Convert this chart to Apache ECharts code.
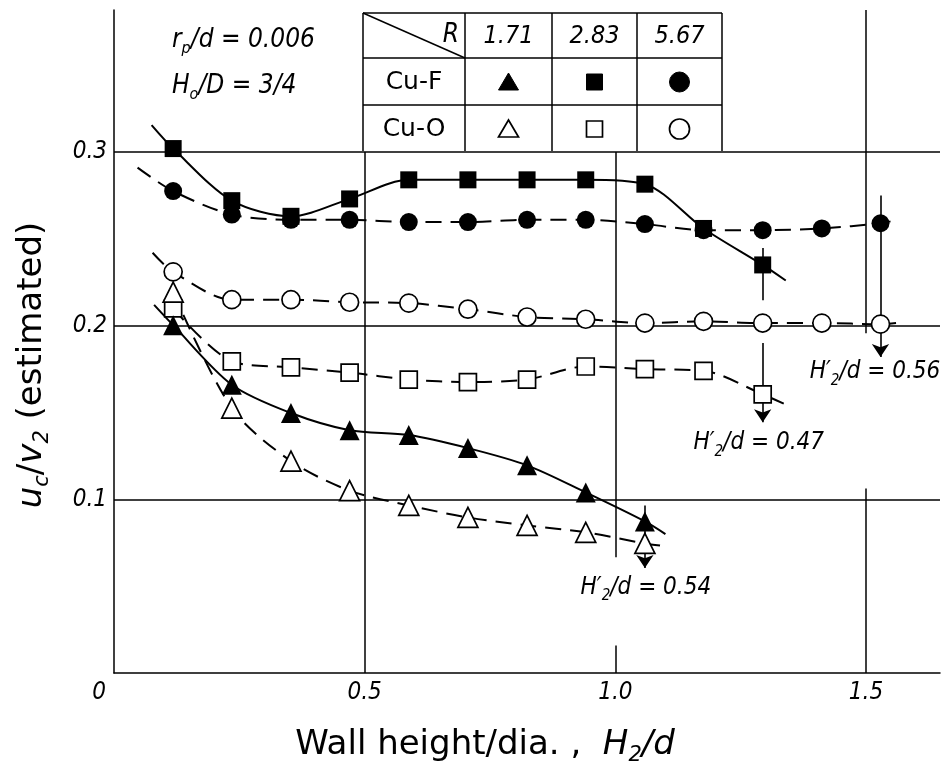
<!DOCTYPE html>
<html><head><meta charset="utf-8">
<script src="https://cdn.jsdelivr.net/npm/echarts@6/dist/echarts.min.js"></script>
<style>html,body{margin:0;padding:0;background:#fff}#c{width:944px;height:771px}</style>
</head><body><div id="c"></div>
<script>
// ---------- data ----------
const xPos = [0.118,0.235,0.353,0.470,0.588,0.706,0.824,0.941,1.059,1.176,1.294,1.412,1.529];
// Cu-F (filled), Cu-O (open); R = 1.71 triangle, 2.83 square, 5.67 circle
const cuF_283 = [0.302,0.272,0.263,0.273,0.284,0.284,0.284,0.284,0.2815,0.256,0.235];
const cuF_283_ends = [[0.075,0.3155],[1.340,0.226]];
const cuF_567 = [0.2775,0.264,0.261,0.261,0.2597,0.2597,0.261,0.261,0.2585,0.255,0.255,0.256,0.259];
const cuF_567_ends = [[0.047,0.291],[1.563,0.261]];
const cuO_567 = [0.231,0.215,0.215,0.2135,0.213,0.2095,0.205,0.2037,0.2015,0.2025,0.2015,0.2015,0.2009];
const cuO_567_ends = [[0.077,0.242],[1.560,0.2015]];
const cuO_283 = [0.210,0.1795,0.176,0.173,0.169,0.1675,0.169,0.1765,0.175,0.174,0.1605];
const cuO_283_ends = [null,[1.344,0.154]];
const cuF_171 = [0.2003,0.166,0.1497,0.1398,0.137,0.1295,0.1196,0.104,0.0873];
const cuF_171_ends = [[0.080,0.212],[1.100,0.080]];
const cuO_171 = [0.2193,0.1525,0.122,0.105,0.0965,0.0896,0.085,0.081,0.0746];
const cuO_171_ends = [null,[1.100,0.073]];
// H2'/d arrows: [x, yFrom, yTo]
const arrows = [[1.529,0.275,0.182],[1.294,0.190,0.1444],[1.059,0.0965,0.0605]];
const arrowStubs = [[1.294,0.2447,0.2147]];
const arrowLabels = [[1.518,0.1732,'0.56'],[1.286,0.1323,'0.47'],[1.061,0.0493,'0.54']];
const xTicks = [0,0.5,1.0,1.5];
const yTicks = [0.1,0.2,0.3];
const tableR = ['1.71','2.83','5.67'];
const tableRows = ['Cu-F','Cu-O'];
const X_MAX = 1.6477, Y_MAX = 0.3818;

// ---------- build ----------
const FONT = "'DejaVu Sans Condensed','DejaVu Sans',sans-serif";
const FONTW = "'DejaVu Sans',sans-serif";
const BLACK = '#000';
function pts(vals){ return vals.map((v,i)=>[xPos[i],v]); }
function curve(vals, ends){
  const d = pts(vals);
  if (ends[0]) d.unshift(ends[0]);
  if (ends[1]) d.push(ends[1]);
  return d;
}
const DASH = [16,9];
function lineSeries(vals, ends, dashed){
  return {type:'line', data: curve(vals, ends), showSymbol:false, smooth:0.3, z:3, silent:true,
    lineStyle:{color:BLACK, width:2, opacity:1, type: dashed?DASH:'solid'}};
}
function markSeries(vals, symbol, filled, size){
  return {type:'scatter', data: pts(vals), symbol, symbolSize:size, z:5, silent:true,
    itemStyle: filled ? {color:BLACK, opacity:1} : {color:'#fff', borderColor:BLACK, borderWidth:1.7, opacity:1}};
}
const gridSegs = [];
gridSegs.push([[0.5,0],[0.5,0.3]]);
gridSegs.push([[1.0,0.3],[1.0,0.0666]]);
gridSegs.push([[1.0,0.0158],[1.0,0]]);
gridSegs.push([[1.5,Y_MAX],[1.5,0.1956]]);
gridSegs.push([[1.5,0.1063],[1.5,0]]);
yTicks.forEach(v=>gridSegs.push([[0,v],[X_MAX,v]]));

const arrowData = arrows.map(a=>[{coord:[a[0],a[1]]},{coord:[a[0],a[2]]}]);
const stubData = arrowStubs.map(a=>[{coord:[a[0],a[1]]},{coord:[a[0],a[2]]}]);

const subRich = (fs, fam)=>({
  i:{fontFamily:fam||FONT, fontStyle:'italic', fontSize:fs, lineHeight:fs+8, color:BLACK},
  s:{fontFamily:fam||FONT, fontStyle:'italic', fontSize:Math.round(fs*0.62), lineHeight:Math.round(fs*0.62)+2, verticalAlign:'bottom', color:BLACK},
  n:{fontFamily:fam||FONT, fontSize:fs, lineHeight:fs+8, color:BLACK}
});

const series = [
  {type:'line', data:[], z:1, silent:true,
    markLine:{silent:true, symbol:['none','none'], animation:false, label:{show:false},
      lineStyle:{color:BLACK, width:1.5, type:'solid', opacity:1}, data: gridSegs.map(s=>[{coord:s[0]},{coord:s[1]}])}},
  {type:'line', data:[], z:2, silent:true,
    markLine:{silent:true, symbol:['none','arrow'], symbolSize:13, animation:false, label:{show:false},
      itemStyle:{color:BLACK},
      lineStyle:{color:BLACK, width:1.6, type:'solid', opacity:1}, data: arrowData}},
  {type:'line', data:[], z:2, silent:true,
    markLine:{silent:true, symbol:['none','none'], animation:false, label:{show:false},
      lineStyle:{color:BLACK, width:1.6, type:'solid', opacity:1}, data: stubData}},
  lineSeries(cuF_283, cuF_283_ends, false),
  lineSeries(cuF_567, cuF_567_ends, true),
  lineSeries(cuO_567, cuO_567_ends, true),
  lineSeries(cuO_283, cuO_283_ends, true),
  lineSeries(cuF_171, cuF_171_ends, false),
  lineSeries(cuO_171, cuO_171_ends, true),
  markSeries(cuF_567, 'circle', true, 18),
  markSeries(cuO_567, 'circle', false, 18),
  markSeries(cuF_283, 'rect', true, 17),
  markSeries(cuO_283, 'rect', false, 17),
  markSeries(cuF_171, 'triangle', true, 20),
  markSeries(cuO_171, 'triangle', false, 20),
  {type:'scatter', symbolSize:0, z:6, silent:true,
    data: arrowLabels.map(a=>({value:[a[0],a[1]], name:a[2]})),
    label:{show:true, position:'inside', color:BLACK, opacity:1, formatter: p=>'{i|H′}{s|2}{i|/d = '+p.name+'}', rich: subRich(24)}}
];

// table (legend) graphic
const TL=363, TR=722, cols=[465,552,637], rows=[13,58,105,151];
const g = [];
const ln = (x1,y1,x2,y2)=>({type:'line', shape:{x1,y1,x2,y2}, style:{stroke:BLACK, lineWidth:1.5}, silent:true});
g.push(ln(TL,rows[0],TR,rows[0]));
g.push(ln(TL,rows[1],TR,rows[1]));
g.push(ln(TL,rows[2],TR,rows[2]));
g.push(ln(TL,rows[0],TL,rows[3]));
g.push(ln(TR,rows[0],TR,rows[3]));
cols.forEach(c=>g.push(ln(c,rows[0],c,rows[3])));
g.push(ln(TL,rows[0],cols[0],rows[1]));
const txt = (x,y,text,opt)=>Object.assign({type:'text', x, y, silent:true,
  style:Object.assign({text, fill:BLACK, fontFamily:FONT, fontSize:24, align:'center', verticalAlign:'middle'}, opt||{})});
g.push(txt(cols[0]-6, 35, 'R', {fontStyle:'italic', align:'right', fontSize:26}));
const cx = [(cols[0]+cols[1])/2,(cols[1]+cols[2])/2,(cols[2]+TR)/2];
tableR.forEach((r,i)=>g.push(txt(cx[i], 36, r, {fontStyle:'italic', fontSize:25})));
g.push(txt((TL+cols[0])/2, 82, tableRows[0], {fontSize:25, fontFamily:FONTW}));
g.push(txt((TL+cols[0])/2, 129, tableRows[1], {fontSize:25, fontFamily:FONTW}));
function sym(kind, x, y, filled){
  const st = filled ? {fill:BLACK, stroke:BLACK, lineWidth:1} : {fill:'#fff', stroke:BLACK, lineWidth:1.7};
  if (kind==='tri') return {type:'polygon', shape:{points:[[x,y-9],[x-10,y+8],[x+10,y+8]]}, style:st, silent:true};
  if (kind==='sq') return {type:'rect', shape:{x:x-8,y:y-8,width:16,height:16}, style:st, silent:true};
  return {type:'circle', shape:{cx:x,cy:y,r:10}, style:st, silent:true};
}
g.push(sym('tri',cx[0],82,true)); g.push(sym('sq',cx[1],82,true)); g.push(sym('circ',cx[2],82,true));
g.push(sym('tri',cx[0],129,false)); g.push(sym('sq',cx[1],129,false)); g.push(sym('circ',cx[2],129,false));

// parameter annotations
g.push({type:'text', x:172, y:40, silent:true, style:{text:'{i|r}{s|p}{i|/d = 0.006}', rich:subRich(26), align:'left', verticalAlign:'middle'}});
g.push({type:'text', x:172, y:86, silent:true, style:{text:'{i|H}{s|o}{i|/D = 3/4}', rich:subRich(26), align:'left', verticalAlign:'middle'}});
// axis titles
g.push({type:'text', x:485, y:745, silent:true, style:{text:'{n|Wall height/dia. ,  }{i|H}{s|2}{i|/d}', rich:subRich(34, FONTW), align:'center', verticalAlign:'middle'}});
g.push({type:'text', x:32, y:365, rotation:Math.PI/2, silent:true, style:{text:'{i|u}{s|c}{n|/}{i|v}{s|2}{n| (estimated)}', rich:subRich(34, FONTW), align:'center', verticalAlign:'middle'}});

const chart = echarts.init(document.getElementById('c'), null, {renderer:'canvas'});
chart.setOption({
  animation:false,
  backgroundColor:'#fff',
  grid:{left:114, right:4, top:10, bottom:98, containLabel:false},
  xAxis:{type:'value', min:0, max:X_MAX, interval:0.5,
    axisLine:{show:true, onZero:false, lineStyle:{color:BLACK, width:1.5}},
    axisTick:{show:false}, splitLine:{show:false},
    axisLabel:{margin:8, color:BLACK, fontFamily:FONT, fontStyle:'italic', fontSize:24,
      rich:{z:{fontFamily:FONT, fontStyle:'italic', fontSize:24, color:BLACK, padding:[0,30,0,0]}},
      formatter:v=>{ const k = xTicks.find(t=>Math.abs(t-v)<1e-6); return k===undefined?'':(k===0?'{z|0}':k.toFixed(1)); }}},
  yAxis:{type:'value', min:0, max:Y_MAX, interval:0.1,
    axisLine:{show:true, onZero:false, lineStyle:{color:BLACK, width:1.5}},
    axisTick:{show:false}, splitLine:{show:false},
    axisLabel:{margin:7, color:BLACK, fontFamily:FONT, fontStyle:'italic', fontSize:24,
      formatter:v=>{ const k = yTicks.find(t=>Math.abs(t-v)<1e-6); return k===undefined?'':k.toFixed(1); }}},
  series,
  graphic: g
});
</script></body></html>
